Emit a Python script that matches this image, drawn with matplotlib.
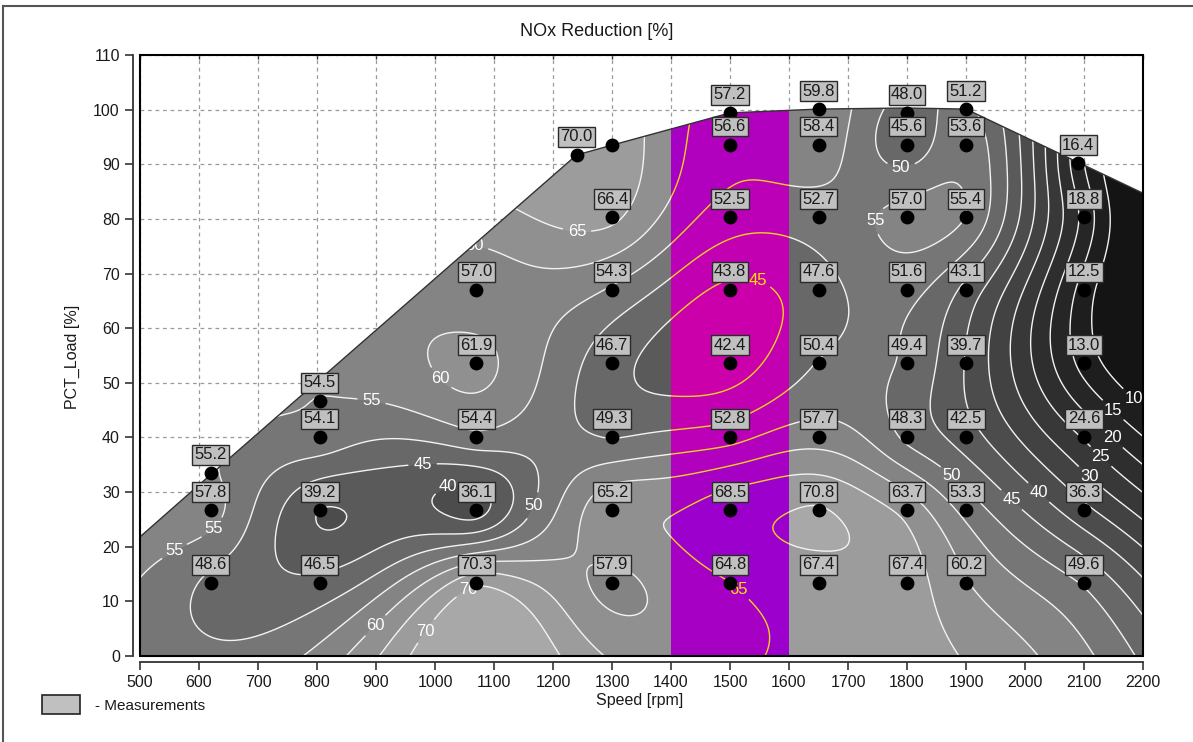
import numpy as np
import matplotlib
matplotlib.use('Agg')
import matplotlib.pyplot as plt
from matplotlib.colors import LinearSegmentedColormap, Normalize
from matplotlib.patches import Polygon, Rectangle
from matplotlib.lines import Line2D

plt.rcParams['font.family'] = ['Liberation Sans', 'DejaVu Sans']

# measurement points (speed rpm, load %, NOx reduction %)
speed = [620, 805, 1070, 1300, 1500, 1650, 1800, 1900, 2100,
         620, 805, 1070, 1300, 1500, 1650, 1800, 1900, 2100,
         620, 805,
         805, 1070, 1300, 1500, 1650, 1800, 1900, 2100,
         1070, 1300, 1500, 1650, 1800, 1900, 2100,
         1070, 1300, 1500, 1650, 1800, 1900, 2100,
         1300, 1500, 1650, 1800, 1900, 2100,
         1240, 1500, 1650, 1800, 1900, 2090,
         1500, 1650, 1800, 1900]
load = [13.4, 13.4, 13.4, 13.4, 13.4, 13.4, 13.4, 13.4, 13.4,
        26.7, 26.7, 26.7, 26.7, 26.7, 26.7, 26.7, 26.7, 26.7,
        33.5, 46.7,
        40.1, 40.1, 40.1, 40.1, 40.1, 40.1, 40.1, 40.1,
        53.6, 53.6, 53.6, 53.6, 53.6, 53.6, 53.6,
        67.0, 67.0, 67.0, 67.0, 67.0, 67.0, 67.0,
        80.3, 80.3, 80.3, 80.3, 80.3, 80.3,
        91.7, 93.6, 93.6, 93.6, 93.6, 90.2,
        99.4, 100.1, 99.4, 100.1]
nox = [48.6, 46.5, 70.3, 57.9, 64.8, 67.4, 67.4, 60.2, 49.6,
       57.8, 39.2, 36.1, 65.2, 68.5, 70.8, 63.7, 53.3, 36.3,
       55.2, 54.5,
       54.1, 54.4, 49.3, 52.8, 57.7, 48.3, 42.5, 24.6,
       61.9, 46.7, 42.4, 50.4, 49.4, 39.7, 13.0,
       57.0, 54.3, 43.8, 47.6, 51.6, 43.1, 12.5,
       66.4, 52.5, 52.7, 57.0, 55.4, 18.8,
       70.0, 56.6, 58.4, 45.6, 53.6, 16.4,
       57.2, 59.8, 48.0, 51.2]

# measured point without a value label
extra_speed = [1300]
extra_load = [93.5]

# full load curve
curve_speed = [500, 622, 1240, 1300, 1500, 1650, 1800, 1900, 2200]
curve_load = [21.8, 33.4, 91.7, 93.5, 99.4, 100.1, 100.3, 100.1, 84.7]

band = (1400, 1600)

# thin plate spline surface through the measurements
sx = np.array(speed) / 100.0
sy = np.array(load) / 10.8
z = np.array(nox)
n = len(z)


def tps_kernel(r):
    with np.errstate(divide='ignore', invalid='ignore'):
        k = r ** 2 * np.log(r)
    return np.nan_to_num(k)


r = np.hypot(sx[:, None] - sx[None, :], sy[:, None] - sy[None, :])
A = np.zeros((n + 3, n + 3))
A[:n, :n] = tps_kernel(r) + 0.15 * np.eye(n)
P = np.column_stack([np.ones(n), sx, sy])
A[:n, n:] = P
A[n:, :n] = P.T
sol = np.linalg.solve(A, np.r_[z, np.zeros(3)])
w, a = sol[:n], sol[n:]

xs = np.linspace(500, 2200, 341)
ys = np.linspace(0, 102, 205)
X, Y = np.meshgrid(xs, ys)
gx = X.ravel() / 100.0
gy = Y.ravel() / 10.8
Z = a[0] + a[1] * gx + a[2] * gy
for i in range(n):
    Z += w[i] * tps_kernel(np.hypot(gx - sx[i], gy - sy[i]))
Z = np.clip(Z.reshape(X.shape), None, 73)

fig = plt.figure(figsize=(11.93, 7.42), dpi=100)
ax = fig.add_axes([140 / 1193, 1 - 656 / 742, 1003 / 1193, 601 / 742])
ax.set_xlim(500, 2200)
ax.set_ylim(0, 110)

ax.grid(True, color='#9a9a9a', linestyle=(0, (3, 3)), linewidth=0.9, zorder=0)
ax.set_axisbelow(True)

# clip regions
region = [(500, 0)] + list(zip(curve_speed, curve_load)) + [(2200, 0)]
clip_all = Polygon(region, closed=True, transform=ax.transData, fill=False, lw=0)
ax.add_patch(clip_all)
bl = np.interp(band[0], curve_speed, curve_load)
br = np.interp(band[1], curve_speed, curve_load)
band_poly = [(band[0], 0), (band[0], bl), (1500, 99.4), (band[1], br), (band[1], 0)]
clip_band = Polygon(band_poly, closed=True, transform=ax.transData, fill=False, lw=0)
ax.add_patch(clip_band)

fill_levels = np.r_[-200, np.arange(5, 80, 5), 300]
line_levels = np.arange(10, 80, 5)

gray = LinearSegmentedColormap.from_list('nox_gray', [
    (0.0, '#141414'), (5 / 65, '#1e1e1e'), (15 / 65, '#2e2e2e'), (30 / 65, '#4c4c4c'),
    (40 / 65, '#686868'), (50 / 65, '#848484'), (60 / 65, '#9c9c9c'), (1.0, '#a8a8a8')])
cs_gray = ax.contourf(X, Y, Z, levels=fill_levels, cmap=gray,
                      norm=Normalize(7.5, 72.5), zorder=1)
cs_gray.set_clip_path(clip_all)

cl_white = ax.contour(X, Y, Z, levels=line_levels, colors='#f2f2f2',
                      linewidths=1.0, zorder=2)
cl_white.set_clip_path(clip_all)

mag = LinearSegmentedColormap.from_list('nox_mag', [
    (0.0, '#d400a4'), (0.4, '#c000b4'), (0.7, '#b000c0'), (1.0, '#9c00cc')])
cs_mag = ax.contourf(X, Y, Z, levels=fill_levels, cmap=mag,
                     norm=Normalize(37.5, 67.5), zorder=2.5)
cs_mag.set_clip_path(clip_band)

cl_yel = ax.contour(X, Y, Z, levels=line_levels, colors='#f0d020',
                    linewidths=1.0, zorder=3)
cl_yel.set_clip_path(clip_band)

white_pos = [(1255, 86), (1240, 76.7), (1064, 73.7), (1002, 50), (891, 45.6),
             (980, 32.8), (1022, 30.9), (1178, 27), (629, 22.7), (531, 24.5),
             (898, 5.7), (1010, 2.6), (1054, 12.8), (1790, 89), (1732, 80),
             (1880, 33.5), (1985, 29.5), (2028, 30.5), (2114, 33.5),
             (2133, 37), (2157, 41), (2162, 46.5), (2194, 48.3)]
ax.clabel(cl_white, manual=white_pos, inline=True, fontsize=12,
          colors='white', fmt='%d')
ax.clabel(cl_yel, manual=[(1547, 68.8), (1520, 12.8)], inline=True,
          fontsize=12, colors='#ffe000', fmt='%d')
for t in cl_white.labelTexts:
    t.set_rotation(0)
    t.set_zorder(3.5)
for t in cl_yel.labelTexts:
    t.set_rotation(0)
    t.set_zorder(3.6)

# outline of the full load curve
ax.plot(curve_speed, curve_load, color='#333333', lw=1.0, zorder=4)

# measurement points and value boxes
ax.scatter(speed + extra_speed, load + extra_load, s=80, color='black',
           zorder=6, clip_on=False)
for s, l, v in zip(speed, load, nox):
    ax.annotate(f'{v:.1f}', (s, l), xytext=(0, 18), textcoords='offset pixels',
                ha='center', va='center', fontsize=12, color='#1a1a1a',
                bbox=dict(boxstyle='square,pad=0.14', fc='#c0c0c0', ec='#2a2a2a', lw=1),
                zorder=7, annotation_clip=False)

# frame and offset axes
ax.add_patch(Rectangle((0, 0), 1, 1, transform=ax.transAxes, fill=False,
                       ec='black', lw=1.5, zorder=5, clip_on=False))
ax.spines['top'].set_visible(False)
ax.spines['right'].set_visible(False)
ax.spines['left'].set_position(('outward', 5))
ax.spines['bottom'].set_position(('outward', 4.5))
ax.spines['left'].set_color('#333333')
ax.spines['bottom'].set_color('#333333')
ax.spines['left'].set_linewidth(1.3)
ax.spines['bottom'].set_linewidth(1.3)
ax.set_xticks(np.arange(500, 2201, 100))
ax.set_yticks(np.arange(0, 111, 10))
ax.tick_params(axis='both', direction='out', length=6, width=1.2,
               color='#333333', labelsize=11.5, labelcolor='#1a1a1a')
top = ax.secondary_xaxis('top')
top.set_xticks(np.arange(500, 2201, 100))
top.tick_params(direction='in', length=3, width=1, labeltop=False, color='#333333')
top.spines['top'].set_visible(False)

fig.text(0.5, 1 - 32 / 742, 'NOx Reduction [%]', ha='center', va='center',
         fontsize=13, color='#1a1a1a')
fig.text(640 / 1193, 1 - 700 / 742, 'Speed [rpm]', ha='center', va='center',
         fontsize=11.5, color='#1a1a1a')
fig.text(72 / 1193, 1 - 357 / 742, 'PCT_Load [%]', ha='center', va='center',
         rotation=90, fontsize=11.5, color='#1a1a1a')

# legend
fig.patches.append(Rectangle((42 / 1193, 1 - 714 / 742), 38 / 1193, 19 / 742,
                             transform=fig.transFigure, fc='#c0c0c0',
                             ec='#222222', lw=1.2))
fig.text(95 / 1193, 1 - 706 / 742, '- Measurements', ha='left', va='center',
         fontsize=11, color='#1a1a1a')

# outer border
fig.add_artist(Line2D([3 / 1193, 1], [1 - 6 / 742, 1 - 6 / 742],
                      transform=fig.transFigure, color='#555555', lw=1.5))
fig.add_artist(Line2D([3 / 1193, 3 / 1193], [0, 1 - 6 / 742],
                      transform=fig.transFigure, color='#555555', lw=1.5))

fig.savefig('out.png', dpi=100)
